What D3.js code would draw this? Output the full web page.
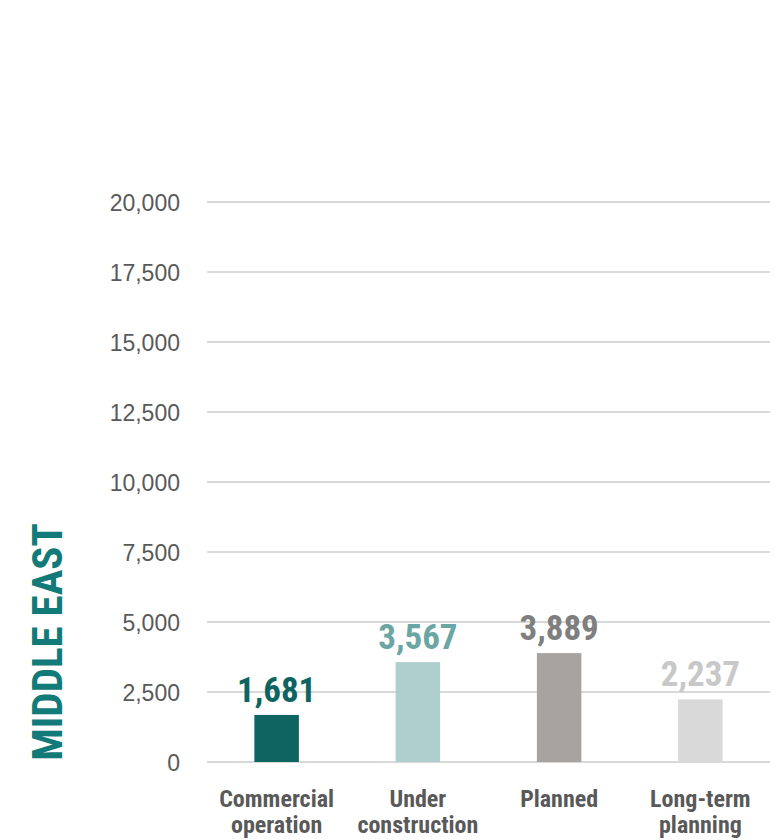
<!DOCTYPE html>
<html>
<head>
<meta charset="utf-8">
<script src="https://cdn.jsdelivr.net/npm/d3@7"></script>
<style>
  html, body { margin: 0; padding: 0; background: #ffffff; }
  svg { display: block; }
</style>
</head>
<body>
<div id="chart"></div>
<script>
const categories = [["Commercial", "operation"], ["Under", "construction"], ["Planned"], ["Long-term", "planning"]];
const values = [1681, 3567, 3889, 2237];
const barColors = ["#0e6461", "#aecfcd", "#a7a3a0", "#d9d9d9"];
const labelColors = ["#0e6461", "#6aa6a3", "#7f7f7f", "#c8c8c8"];
const yTicks = [0, 2500, 5000, 7500, 10000, 12500, 15000, 17500, 20000];
const regionTitle = "MIDDLE EAST";

const W = 782, H = 840;
const margin = { left: 207, right: 12, top: 202, bottom: 78 };
const svg = d3.select("#chart").append("svg").attr("width", W).attr("height", H);

const x = d3.scaleBand()
  .domain(d3.range(categories.length))
  .range([206, 771])
  .paddingInner(0.685)
  .paddingOuter(0.3425);

const y = d3.scaleLinear().domain([0, 20000]).range([H - margin.bottom, margin.top]);

const narrow = "'Liberation Sans Narrow', 'Arial Narrow', 'Roboto Condensed', sans-serif";
const regular = "'Liberation Sans', Arial, sans-serif";

// gridlines
svg.append("g")
  .selectAll("line")
  .data(yTicks)
  .join("line")
  .attr("x1", margin.left)
  .attr("x2", W - margin.right)
  .attr("y1", d => y(d))
  .attr("y2", d => y(d))
  .attr("stroke", "#d9d9d9")
  .attr("stroke-width", 2);

// y axis labels
const yAxis = d3.axisLeft(y).tickValues(yTicks).tickSize(0).tickPadding(0)
  .tickFormat(d3.format(","));
const ya = svg.append("g").attr("transform", `translate(180,0)`).call(yAxis);
ya.select(".domain").remove();
ya.selectAll("text")
  .attr("font-family", regular)
  .attr("font-size", 23)
  .attr("fill", "#595959")
  .attr("dy", "0.35em");

// bars
svg.append("g")
  .selectAll("rect")
  .data(values)
  .join("rect")
  .attr("x", (d, i) => x(i))
  .attr("width", x.bandwidth())
  .attr("y", d => y(d))
  .attr("height", d => y(0) - y(d))
  .attr("fill", (d, i) => barColors[i]);

// value labels
svg.append("g")
  .selectAll("text")
  .data(values)
  .join("text")
  .attr("x", (d, i) => x(i) + x.bandwidth() / 2)
  .attr("y", d => y(d) - 13)
  .attr("text-anchor", "middle")
  .attr("font-family", narrow)
  .attr("font-weight", "bold")
  .attr("font-size", 35)
  .attr("fill", (d, i) => labelColors[i])
  .text(d => d3.format(",")(d));

// category labels
const cat = svg.append("g")
  .selectAll("text")
  .data(categories)
  .join("text")
  .attr("x", (d, i) => x(i) + x.bandwidth() / 2)
  .attr("y", 807)
  .attr("text-anchor", "middle")
  .attr("font-family", narrow)
  .attr("font-weight", "bold")
  .attr("font-size", 24)
  .attr("fill", "#595959");
cat.selectAll("tspan")
  .data(d => d)
  .join("tspan")
  .attr("x", function() { return d3.select(this.parentNode).attr("x"); })
  .attr("dy", (d, i) => i === 0 ? 0 : 26)
  .text(d => d);

// region title
svg.append("text")
  .attr("transform", `translate(62,642) rotate(-90)`)
  .attr("text-anchor", "middle")
  .attr("font-family", narrow)
  .attr("font-weight", "bold")
  .attr("font-size", 43)
  .attr("fill", "#127a78")
  .text(regionTitle);
</script>
</body>
</html>
